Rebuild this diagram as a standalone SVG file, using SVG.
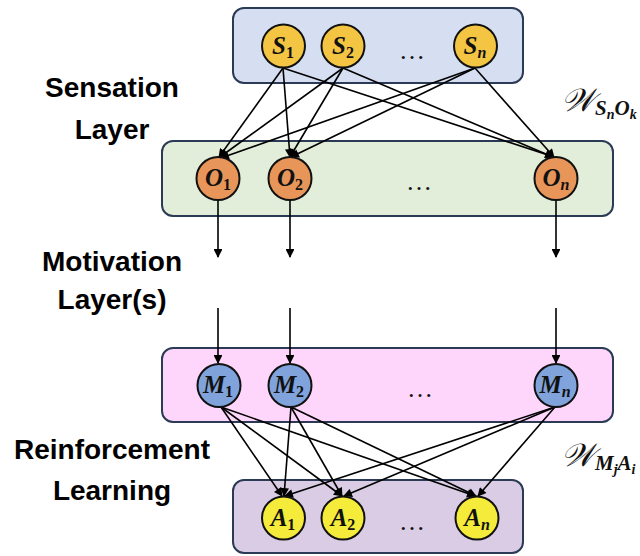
<svg xmlns="http://www.w3.org/2000/svg" width="640" height="556" viewBox="0 0 640 556">
  <style>
    .layer { stroke: #2b3a55; stroke-width: 2; }
    .node { stroke: #111; stroke-width: 2; }
    .lbl { font-family: "Liberation Serif", "DejaVu Serif", serif; font-weight: bold; font-style: italic; font-size: 25px; fill: #111; text-anchor: middle; }
    .sub { font-size: 16px; font-style: normal; }
    .subi { font-size: 16px; }
    .dots { font-family: "Liberation Serif", serif; font-size: 26px; fill: #111; text-anchor: middle; }
    .side { font-family: "Liberation Sans", Arial, sans-serif; font-weight: bold; font-size: 28px; fill: #000; text-anchor: middle; }
    .w { font-family: "DejaVu Serif", "Liberation Serif", serif; font-style: italic; font-size: 32px; fill: #111; }
    .ws { font-family: "Liberation Serif", serif; font-weight: bold; font-style: italic; font-size: 21px; fill: #111; }
    .wss { font-family: "Liberation Serif", serif; font-weight: bold; font-style: italic; font-size: 14px; fill: #111; }
    .edge { stroke: #000; stroke-width: 1.6; fill: none; marker-end: url(#arr); }
  </style>
  <defs>
    <marker id="arr" viewBox="0 0 10 10" refX="9" refY="5" markerWidth="6" markerHeight="5.5" orient="auto" markerUnits="strokeWidth">
      <path d="M0,0 L10,5 L0,10 Z" fill="#000"/>
    </marker>
  </defs>

  <rect width="640" height="556" fill="#fff"/>

  <!-- layer panels -->
  <rect id="sensation-panel" class="layer" x="233" y="8" width="290" height="75" rx="11" fill="#d6def1"/>
  <rect id="motivation-panel" class="layer" x="162" y="141" width="451" height="75" rx="11" fill="#e2eed9"/>
  <rect id="reward-panel" class="layer" x="162" y="348" width="451" height="74" rx="11" fill="#ffd6fb"/>
  <rect id="action-panel" class="layer" x="233" y="480" width="290" height="73" rx="11" fill="#d9cce4"/>

  <!-- side captions -->
  <text class="side" x="112" y="97">Sensation</text>
  <text class="side" x="112" y="139">Layer</text>
  <text class="side" x="112" y="271">Motivation</text>
  <text class="side" x="112" y="309">Layer(s)</text>
  <text class="side" x="112" y="459">Reinforcement</text>
  <text class="side" x="112" y="500">Learning</text>

  <!-- weight labels -->
  <text x="561" y="111"><tspan class="w">𝒲</tspan><tspan class="ws" dy="4">S</tspan><tspan class="wss" dy="4">n</tspan><tspan class="ws" dy="-4">O</tspan><tspan class="wss" dy="4">k</tspan></text>
  <text x="561" y="466"><tspan class="w">𝒲</tspan><tspan class="ws" dy="4">M</tspan><tspan class="wss" dy="4">j</tspan><tspan class="ws" dy="-4">A</tspan><tspan class="wss" dy="4">i</tspan></text>

  <!-- connectors -->
  <g id="connectors">
    <line class="edge" x1="283" y1="68" x2="219" y2="157"/>
    <line class="edge" x1="283" y1="68" x2="290" y2="157"/>
    <line class="edge" x1="283" y1="68" x2="554" y2="157"/>
    <line class="edge" x1="343" y1="68" x2="220" y2="157"/>
    <line class="edge" x1="343" y1="68" x2="290" y2="157"/>
    <line class="edge" x1="343" y1="68" x2="553" y2="157"/>
    <line class="edge" x1="475" y1="68" x2="221" y2="158"/>
    <line class="edge" x1="475" y1="68" x2="291" y2="157"/>
    <line class="edge" x1="475" y1="68" x2="554" y2="157"/>

    <line class="edge" x1="218" y1="200" x2="218" y2="257"/>
    <line class="edge" x1="290" y1="200" x2="290" y2="257"/>
    <line class="edge" x1="556" y1="200" x2="556" y2="257"/>
    <line class="edge" x1="218" y1="308" x2="218" y2="363"/>
    <line class="edge" x1="290" y1="308" x2="290" y2="363"/>
    <line class="edge" x1="556" y1="308" x2="556" y2="363"/>

    <line class="edge" x1="221" y1="407" x2="282" y2="496"/>
    <line class="edge" x1="221" y1="407" x2="342" y2="496"/>
    <line class="edge" x1="221" y1="407" x2="475" y2="496"/>
    <line class="edge" x1="291" y1="407" x2="284" y2="496"/>
    <line class="edge" x1="291" y1="407" x2="342" y2="496"/>
    <line class="edge" x1="291" y1="407" x2="476" y2="496"/>
    <line class="edge" x1="555" y1="407" x2="285" y2="496"/>
    <line class="edge" x1="555" y1="407" x2="344" y2="496"/>
    <line class="edge" x1="555" y1="407" x2="478" y2="496"/>
  </g>

  <!-- sensation nodes -->
  <g id="S1"><circle class="node" cx="283.5" cy="46" r="21.5" fill="#f4c542"/><text class="lbl" x="283" y="54">S<tspan class="sub" dy="4">1</tspan></text></g>
  <g id="S2"><circle class="node" cx="343" cy="46" r="21.5" fill="#f4c542"/><text class="lbl" x="343" y="54">S<tspan class="sub" dy="4">2</tspan></text></g>
  <g id="Sn"><circle class="node" cx="475.5" cy="46" r="21.5" fill="#f4c542"/><text class="lbl" x="475" y="54">S<tspan class="subi" dy="4">n</tspan></text></g>
  <text class="dots" x="412" y="59">…</text>

  <!-- motivation nodes -->
  <g id="O1"><circle class="node" cx="218" cy="178.5" r="21.5" fill="#e8955a"/><text class="lbl" x="218" y="186">O<tspan class="sub" dy="4">1</tspan></text></g>
  <g id="O2"><circle class="node" cx="290" cy="178.5" r="21.5" fill="#e8955a"/><text class="lbl" x="290" y="186">O<tspan class="sub" dy="4">2</tspan></text></g>
  <g id="On"><circle class="node" cx="556" cy="178.5" r="21.5" fill="#e8955a"/><text class="lbl" x="556" y="186">O<tspan class="subi" dy="4">n</tspan></text></g>
  <text class="dots" x="419" y="190">…</text>

  <!-- reinforcement nodes -->
  <g id="M1"><circle class="node" cx="219" cy="385.5" r="21.5" fill="#7fa3da"/><text class="lbl" x="218" y="393">M<tspan class="sub" dy="4">1</tspan></text></g>
  <g id="M2"><circle class="node" cx="290" cy="385.5" r="21.5" fill="#7fa3da"/><text class="lbl" x="289" y="393">M<tspan class="sub" dy="4">2</tspan></text></g>
  <g id="Mn"><circle class="node" cx="556" cy="385.5" r="21.5" fill="#7fa3da"/><text class="lbl" x="555" y="393">M<tspan class="subi" dy="4">n</tspan></text></g>
  <text class="dots" x="420" y="397">…</text>

  <!-- action nodes -->
  <g id="A1"><circle class="node" cx="283.5" cy="518" r="21.5" fill="#f5eb3a"/><text class="lbl" x="283" y="526">A<tspan class="sub" dy="4">1</tspan></text></g>
  <g id="A2"><circle class="node" cx="343" cy="518" r="21.5" fill="#f5eb3a"/><text class="lbl" x="343" y="526">A<tspan class="sub" dy="4">2</tspan></text></g>
  <g id="An"><circle class="node" cx="477" cy="518" r="21.5" fill="#f5eb3a"/><text class="lbl" x="477" y="526">A<tspan class="subi" dy="4">n</tspan></text></g>
  <text class="dots" x="412" y="530">…</text>
</svg>
